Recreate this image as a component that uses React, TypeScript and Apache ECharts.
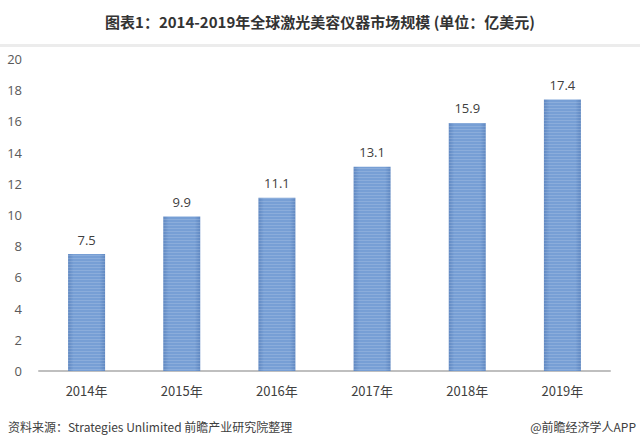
import React, { useEffect, useRef } from "react";
import * as echarts from "echarts";

const categories = ["2014年", "2015年", "2016年", "2017年", "2018年", "2019年"];
const values = [7.5, 9.9, 11.1, 13.1, 15.9, 17.4];
const titleText = "图表1：2014-2019年全球激光美容仪器市场规模 (单位：亿美元)";
const sourceText = "资料来源：Strategies Unlimited 前瞻产业研究院整理";
const brandText = "@前瞻经济学人APP";

const FONT = "'Noto Sans CJK SC', 'Noto Sans', sans-serif";

export default function App() {
  const ref = useRef<HTMLDivElement>(null);
  useEffect(() => {
    if (!ref.current) return;
    const chart = echarts.init(ref.current, undefined, { renderer: "svg" });
    chart.setOption({
      animation: false,
      backgroundColor: "#ffffff",
      textStyle: { fontFamily: FONT },
      title: {
        text: titleText,
        left: "center",
        top: 9,
        textStyle: { fontSize: 15, fontWeight: "bold", color: "#333333", fontFamily: FONT },
      },
      graphic: [
        {
          type: "rect",
          shape: { x: 0, y: 44, width: 640, height: 3 },
          style: { fill: "#ececec" },
          silent: true,
        },
        {
          type: "text",
          left: 8,
          top: 420,
          style: { text: sourceText, fontSize: 12, fill: "#404040", fontFamily: FONT },
        },
        {
          type: "text",
          right: 4,
          top: 420,
          style: { text: brandText, fontSize: 12, fill: "#404040", fontFamily: FONT },
        },
      ],
      grid: { left: 39, right: 30, top: 59, bottom: 76, containLabel: false },
      xAxis: {
        type: "category",
        data: categories,
        axisLine: { lineStyle: { color: "#bfbfbf", width: 2 } },
        axisTick: { show: false },
        axisLabel: { fontSize: 13, color: "#404040", margin: 13, fontFamily: FONT },
      },
      yAxis: {
        type: "value",
        min: 0,
        max: 20,
        interval: 2,
        axisLine: { show: false },
        axisTick: { show: false },
        splitLine: { show: false },
        axisLabel: { fontSize: 13, color: "#595959", margin: 17, fontFamily: "'Open Sans', sans-serif" },
      },
      series: [
        {
          type: "bar",
          data: values,
          barWidth: 37,
          itemStyle: {
            color: new echarts.graphic.LinearGradient(0, 0, 1, 0, [
              { offset: 0, color: "#6189c2" },
              { offset: 0.15, color: "#779fd5" },
              { offset: 0.85, color: "#779fd5" },
              { offset: 1, color: "#6189c2" },
            ]),
            decal: {
              symbol: "rect",
              dashArrayX: [1, 0],
              dashArrayY: [1, 2],
              rotation: 0,
              color: "rgba(255,255,255,0.15)",
              symbolSize: 1,
            },
          },
          label: {
            show: true,
            position: "top",
            distance: 8,
            fontSize: 13,
            color: "#404040",
            fontFamily: "'Open Sans', sans-serif",
          },
        },
      ],
    });
    return () => chart.dispose();
  }, []);
  return (
    <div
      ref={ref}
      style={{ width: 640, height: 447, position: "absolute", left: 0, top: 0 }}
    />
  );
}
